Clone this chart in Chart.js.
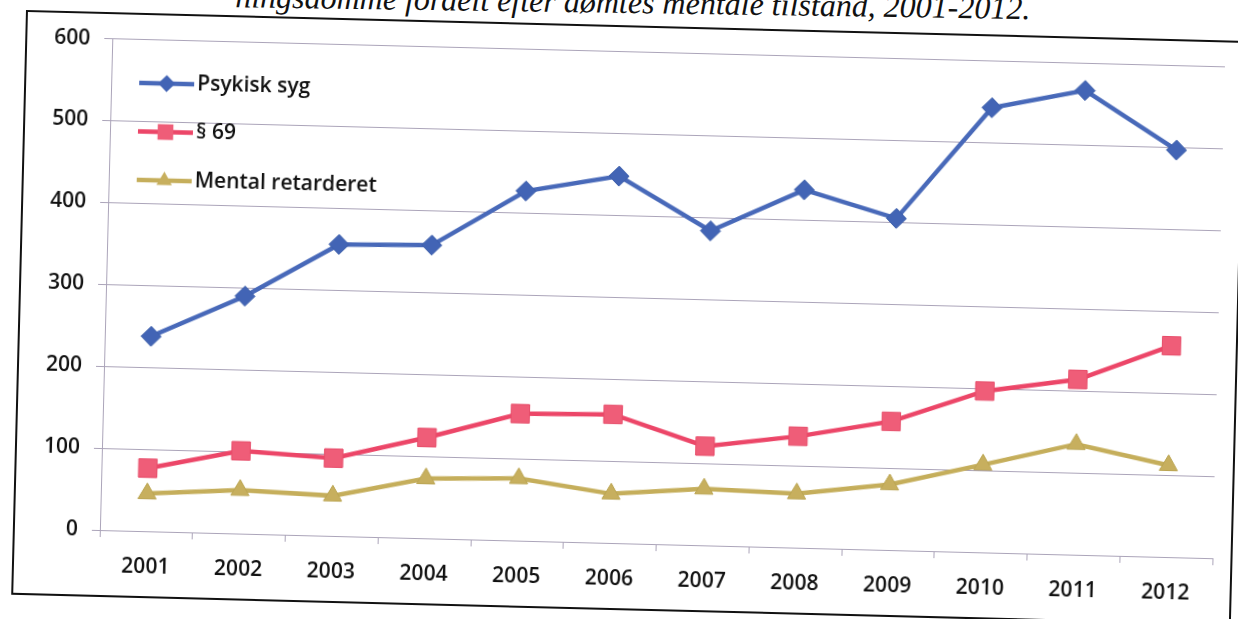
<!DOCTYPE html>
<html>
<head>
<meta charset="utf-8">
<script src="https://cdn.jsdelivr.net/npm/chart.js@4.4.1/dist/chart.umd.min.js"></script>
<style>
  html, body { margin: 0; padding: 0; background: #ffffff; }
  body { width: 1238px; height: 619px; position: relative; overflow: hidden; }
  #title {
    position: absolute; right: 208px; top: -8px;
    font-family: "Liberation Serif", "DejaVu Serif", serif; font-style: italic;
    font-size: 32px; line-height: 32px; color: #111; white-space: nowrap;
    transform: rotate(0.85deg); transform-origin: 100% 100%;
  }
  #title .up { position: relative; top: -13px; }
  #page {
    position: absolute; left: 26px; top: 10px; width: 1220px; height: 585px;
    transform: rotate(1.45deg); transform-origin: 0 0;
  }
  #frame {
    position: absolute; left: 0; top: 0; width: 1220px; height: 585px;
    box-sizing: border-box; border: 2.5px solid #111;
  }
  #c { position: absolute; left: 0; top: 0; }
</style>
</head>
<body>
<div id="title"><span class="up">Figur 3. Foranstalt</span>ningsdomme fordelt efter dømtes mentale tilstand, 2001-2012.</div>
<div id="page">
  <div id="frame"></div>
  <canvas id="c" width="1214" height="585"></canvas>
</div>
<script>
// ---- data ----
const years = ['2001','2002','2003','2004','2005','2006','2007','2008','2009','2010','2011','2012'];
const seriesNames = ['Psykisk syg', '§ 69', 'Mental retarderet'];
const psykiskSyg = [238, 290, 356, 358, 427, 448, 384, 437, 405, 543, 567, 497];
const paragraf69 = [77, 101, 95, 123, 155, 157, 121, 136, 157, 197, 214, 258];
const mentalRetarderet = [46, 53, 49, 73, 76, 60, 69, 66, 80, 107, 135, 112];
const yMin = 0, yMax = 600, yStep = 100;

const FONT = '"Open Sans", "Liberation Sans", sans-serif';
const GRID = '#ABA4B9';

const legendInside = {
  id: 'legendInside',
  afterDatasetsDraw(chart) {
    const ctx = chart.ctx;
    const x0 = 115, x1 = 170, tx = 173, y0 = 70, dy = 48.5;
    chart.data.datasets.forEach((ds, i) => {
      const y = y0 + i * dy;
      ctx.save();
      ctx.strokeStyle = ds.borderColor;
      ctx.lineWidth = ds.borderWidth;
      ctx.beginPath(); ctx.moveTo(x0, y); ctx.lineTo(x1, y); ctx.stroke();
      ctx.fillStyle = ds.pointBackgroundColor;
      ctx.strokeStyle = ds.pointBorderColor;
      ctx.lineWidth = 1;
      Chart.helpers.drawPoint(ctx, { pointStyle: ds.pointStyle, radius: ds.pointRadius * 0.85, rotation: 0 }, (x0 + x1) / 2, y);
      ctx.fillStyle = '#111';
      ctx.font = '600 21px ' + FONT;
      ctx.textBaseline = 'middle';
      ctx.textAlign = 'left';
      ctx.fillText(ds.label, tx, y);
      ctx.restore();
    });
  }
};

new Chart(document.getElementById('c'), {
  type: 'line',
  data: {
    labels: years,
    datasets: [
      { label: seriesNames[0], data: psykiskSyg, borderColor: '#4869B9', borderWidth: 4.5,
        pointStyle: 'rectRot', pointRadius: 10, pointBackgroundColor: '#4264B5', pointBorderColor: '#3C5EAA', pointBorderWidth: 1 },
      { label: seriesNames[1], data: paragraf69, borderColor: '#EC4668', borderWidth: 4.5,
        pointStyle: 'rect', pointRadius: 13, pointBackgroundColor: '#EF5D78', pointBorderColor: '#E74D6A', pointBorderWidth: 1 },
      { label: seriesNames[2], data: mentalRetarderet, borderColor: '#C5AE5B', borderWidth: 4.5,
        pointStyle: 'triangle', pointRadius: 10.5, pointBackgroundColor: '#C7AF5E', pointBorderColor: '#BBA552', pointBorderWidth: 1 }
    ]
  },
  options: {
    responsive: false,
    animation: false,
    devicePixelRatio: 1,
    layout: { padding: { left: 0, top: 25, right: 9, bottom: 17 } },
    plugins: { legend: { display: false }, tooltip: { enabled: false }, title: { display: false } },
    elements: { line: { tension: 0 } },
    scales: {
      x: {
        type: 'category',
        offset: true,
        grid: { display: true, drawOnChartArea: false, drawTicks: true, tickLength: 7, color: GRID, offset: true },
        border: { display: true, color: GRID, width: 1 },
        ticks: { color: '#111', font: { family: FONT, size: 21, weight: '600' }, padding: 16, maxRotation: 0, autoSkip: false },
        afterFit(scale) { scale.height = 50; }
      },
      y: {
        min: yMin, max: yMax,
        grid: { color: GRID, lineWidth: 1, drawTicks: true, tickLength: 8 },
        border: { display: true, color: GRID, width: 1 },
        ticks: { stepSize: yStep, color: '#111', font: { family: FONT, size: 21, weight: '600' }, padding: 14 },
        afterFit(scale) { scale.width = 87; }
      }
    }
  },
  plugins: [legendInside]
});
</script>
</body>
</html>
